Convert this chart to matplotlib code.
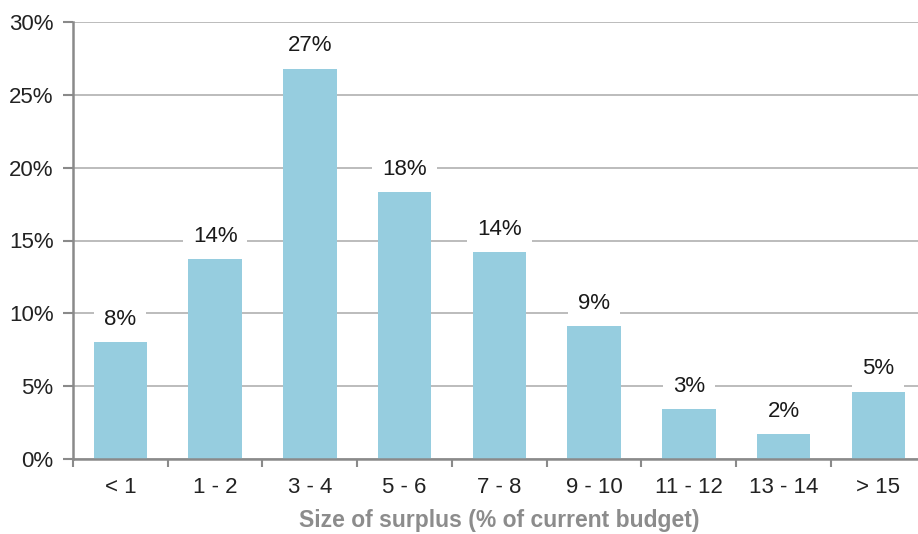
import matplotlib
matplotlib.use('Agg')
import matplotlib.pyplot as plt
from matplotlib.ticker import FuncFormatter, FixedLocator
import numpy as np

categories = ['< 1', '1 - 2', '3 - 4', '5 - 6', '7 - 8', '9 - 10', '11 - 12', '13 - 14', '> 15']
shares = [8.0, 13.7, 26.8, 18.3, 14.2, 9.1, 3.4, 1.7, 4.6]

bar_color = '#96cddf'
axis_color = '#8a8a8a'
grid_color = '#b0b0b0'

plt.rcParams['font.family'] = ['Liberation Sans', 'DejaVu Sans']

fig = plt.figure(figsize=(9.18, 5.34), dpi=100)
ax = fig.add_axes([73/918, 75/534, 852.7/918, 437/534])

x = np.arange(len(categories))
ax.bar(x, shares, width=0.565, color=bar_color, zorder=2)

# value labels sit on white boxes so they break the grid lines
for xi, v in zip(x, shares):
    ax.annotate('%.0f%%' % v, (xi, v), xytext=(0, 23), textcoords='offset pixels',
                ha='center', va='center', fontsize=16, color='#1a1a1a', zorder=3,
                bbox=dict(boxstyle='square,pad=0.45', fc='white', ec='none'))

ax.set_xlim(-0.5, len(categories) - 0.5)
ax.set_ylim(0, 30)
ax.set_yticks(np.arange(0, 31, 5))
ax.yaxis.set_major_formatter(FuncFormatter(lambda v, p: '%d%%' % v))
ax.yaxis.grid(True, color=grid_color, lw=1.2, zorder=0)
ax.set_axisbelow(True)

# category names centred, ticks at the boundaries
ax.xaxis.set_major_locator(FixedLocator(np.arange(len(categories) + 1) - 0.5))
ax.xaxis.set_major_formatter(FuncFormatter(lambda v, p: ''))
ax.xaxis.set_minor_locator(FixedLocator(x))
ax.set_xticklabels(categories, minor=True)
ax.tick_params(axis='x', which='minor', length=0, pad=13, labelsize=16, labelcolor='#222222')
ax.tick_params(axis='x', which='major', length=6, width=1.5, color=axis_color, direction='out')
ax.tick_params(axis='y', length=7, width=1.5, color=axis_color, pad=7, labelsize=16, labelcolor='#222222')

for side in ['top', 'right']:
    ax.spines[side].set_visible(False)
for side in ['left', 'bottom']:
    ax.spines[side].set_color(axis_color)
    ax.spines[side].set_linewidth(1.8)

ax.set_xlabel('Size of surplus (% of current budget)', fontsize=16.5, fontweight='bold',
              color='#8c8c8c')
ax.xaxis.set_label_coords((499 - 73) / 852.7, -50 / 437)

fig.savefig('out.png', dpi=100)
